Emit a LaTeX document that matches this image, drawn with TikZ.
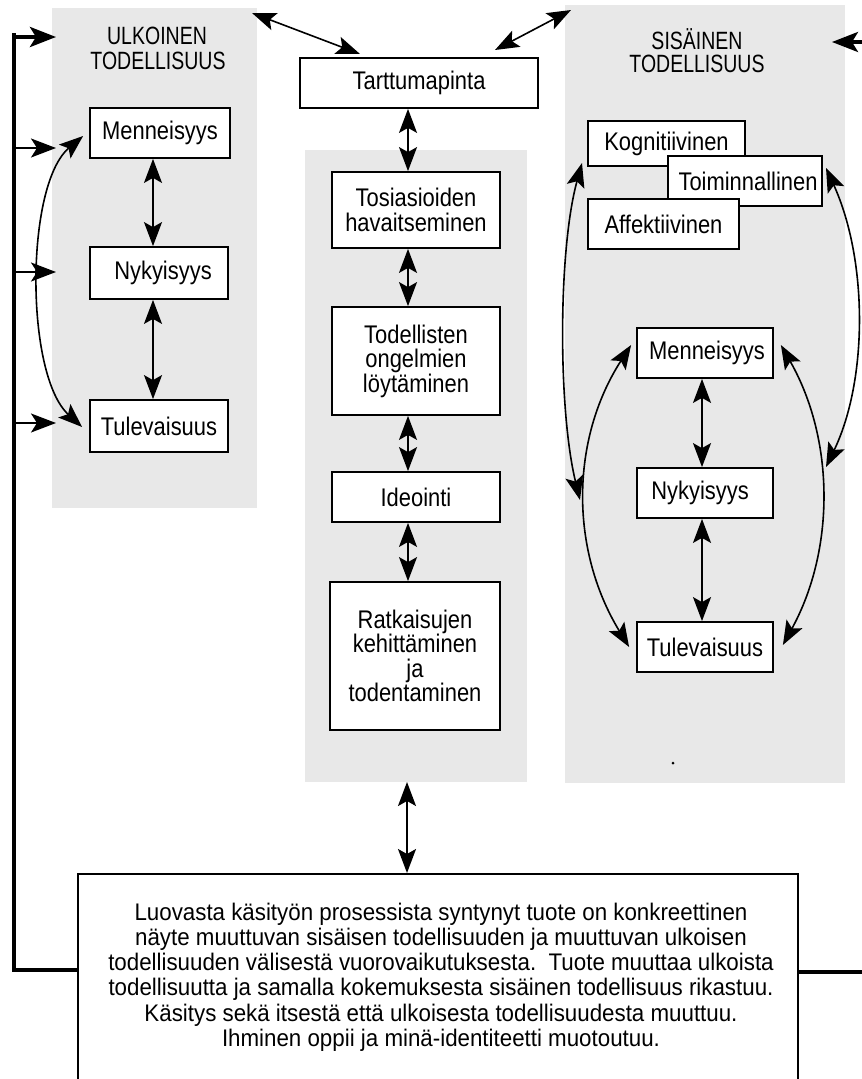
\documentclass[tikz,border=0pt]{standalone}
\usepackage{fontspec}
\setmainfont{Liberation Sans}[FakeStretch=0.86]
\newfontfamily\hfont{Liberation Sans}[FakeStretch=0.78]
\newfontfamily\pfont{Liberation Sans}[FakeStretch=0.93]
\usetikzlibrary{arrows.meta}
\tikzset{
  shadebg/.style={fill=black!9, draw=none},
  box/.style={draw, line width=1.8pt, fill=white, inner sep=0pt, align=center,
    font=\fontsize{25.5}{24.5}\selectfont},
  dbl/.style={line width=1.6pt, {Stealth[length=24pt,width=18pt,inset=5pt]}-{Stealth[length=24pt,width=18pt,inset=5pt]}},
  sgl/.style={line width=1.8pt, -{Stealth[length=25pt,width=19pt,inset=6pt]}},
  bigarr/.style={-{Stealth[length=26pt,width=20pt,inset=6pt]}},
  frameline/.style={line width=4.5pt},
  head/.style={font=\hfont\fontsize{25}{25}\selectfont, inner sep=0pt},
  prodtxt/.style={font=\pfont\fontsize{24}{25.2}\selectfont, align=center, inner sep=0pt}
}
\begin{document}
\begin{tikzpicture}[x=1pt,y=-1pt]
\path[use as bounding box] (0,0) rectangle (862,1079);
% shaded regions
\fill[shadebg] (52,8) rectangle (257,508);
\fill[shadebg] (305,150) rectangle (527,782);
\fill[shadebg] (565,5) rectangle (845,783);
\fill (673,763) circle (1.5);

% headings
\node[head] (hulk1) at (157,36) {ULKOINEN};
\node[head] (hulk2) at (158,61) {TODELLISUUS};
\node[head] (hsis1) at (697,39) {SISÄINEN};
\node[head] (hsis2) at (697,64) {TODELLISUUS};

% centre column
\node[box, minimum width=238pt, minimum height=50pt] (tart) at (419,83) {Tarttumapinta};
\node[box, minimum width=168pt, minimum height=76pt] (tos) at (416,210) {Tosiasioiden\\havaitseminen};
\node[box, minimum width=168pt, minimum height=108pt] (tod) at (416,361) {Todellisten\\ongelmien\\löytäminen};
\node[box, minimum width=168pt, minimum height=50pt] (ide) at (416,497) {Ideointi};
\node[box, minimum width=170pt, minimum height=148pt] (rat) at (415,656) {Ratkaisujen\\kehittäminen\\ja\\todentaminen};

% left column
\node[box, minimum width=140pt, minimum height=50pt] (lmen) at (160,133) {Menneisyys};
\node[box, minimum width=138pt, minimum height=52pt] (lnyk) at (159,273) {\hspace*{8pt}Nykyisyys};
\node[box, minimum width=138pt, minimum height=52pt] (ltul) at (159,426) {Tulevaisuus};

% right column
\node[box, minimum width=157pt, minimum height=45pt] (kog) at (666.5,143.5) {Kognitiivinen};
\node[box, minimum width=154pt, minimum height=50pt] (toi) at (745,181) {\hspace*{6pt}Toiminnallinen};
\node[box, minimum width=151pt, minimum height=50pt] (aff) at (663.5,224) {Affektiivinen};
\node[box, minimum width=136pt, minimum height=50pt] (rmen) at (705,353) {\hspace*{4pt}Menneisyys};
\node[box, minimum width=136pt, minimum height=50pt] (rnyk) at (705,493) {Nykyisyys\hspace*{10pt}};
\node[box, minimum width=136pt, minimum height=50pt] (rtul) at (705,647) {Tulevaisuus};

% bottom box
\node[draw, line width=1.8pt, fill=white, minimum width=720pt, minimum height=220pt,
  anchor=north west, inner sep=0pt] (prod) at (77,873) {};
\node[prodtxt] (prodtext) at (441,977) {Luovasta käsityön prosessista syntynyt tuote on konkreettinen\\
näyte muuttuvan sisäisen todellisuuden ja muuttuvan ulkoisen\\
todellisuuden välisestä vuorovaikutuksesta.\ \ Tuote muuttaa ulkoista\\
todellisuutta ja samalla kokemuksesta sisäinen todellisuus rikastuu.\\
Käsitys sekä itsestä että ulkoisesta todellisuudesta muuttuu.\\
Ihminen oppii ja minä-identiteetti muotoutuu.};

% frame lines
\coordinate (fTop) at (14,33);
\coordinate (fBot) at (14,970);
\coordinate (fRight) at (862,972);
\draw[frameline] (fTop) -- (fBot) -- (fBot -| prod.west);
\draw[frameline] (prod.east |- fRight) -- (fRight);
\coordinate (ta0) at (14,37);  \coordinate (ta1) at (56,37);
\coordinate (la0) at (14,148); \coordinate (la1) at (56,148);
\coordinate (lb0) at (14,272); \coordinate (lb1) at (56,272);
\coordinate (lc0) at (14,423); \coordinate (lc1) at (56,423);
\draw[line width=4pt, bigarr] (ta0) -- (ta1);
\draw[sgl] (la0) -- (la1);
\draw[sgl] (lb0) -- (lb1);
\draw[sgl] (lc0) -- (lc1);
\coordinate (ra0) at (862,42); \coordinate (ra1) at (832,42);
\draw[line width=3.5pt, bigarr] (ra0) -- (ra1);

% top diagonal arrows
\coordinate (d1a) at (252,13); \coordinate (d1b) at (360,54);
\coordinate (d2a) at (495,50); \coordinate (d2b) at (571,10);
\draw[dbl] (d1a) -- (d1b);
\draw[dbl] (d2a) -- (d2b);

% centre vertical arrows
\draw[dbl] ([xshift=-11pt]tart.south) -- ([xshift=-8pt]tos.north);
\draw[dbl] ([xshift=-8pt]tos.south) -- ([xshift=-8pt]tod.north);
\draw[dbl] ([xshift=-8pt]tod.south) -- ([xshift=-8pt]ide.north);
\draw[dbl] ([xshift=-8pt]ide.south) -- ([xshift=-7pt]rat.north);
\coordinate (cb) at (407,782);
\draw[dbl] (cb) -- (cb |- prod.north);

% left column arrows
\draw[dbl] ([xshift=-7pt]lmen.south) -- ([xshift=-6pt]lnyk.north);
\draw[dbl] ([xshift=-6pt]lnyk.south) -- ([xshift=-6pt]ltul.north);
\draw[dbl] ([shift={(-6,3)}]lmen.west) .. controls (25,185) and (25,375) .. ([shift={(-7,1)}]ltul.west);

% right column arrows
\draw[dbl] ([xshift=-3pt]rmen.south) -- ([xshift=-3pt]rnyk.north);
\draw[dbl] ([xshift=-3pt]rnyk.south) -- ([xshift=-3pt]rtul.north);
\coordinate (k1) at (582,163); \coordinate (k2) at (580,500);
\draw[dbl] (k1) .. controls (558,250) and (558,410) .. (k2);
\coordinate (t1) at (826,168); \coordinate (t2) at (826,467);
\draw[dbl] (t1) .. controls (868,260) and (868,380) .. (t2);
\draw[dbl] ([shift={(-5,-8)}]rmen.west) .. controls (570,440) and (570,550) .. ([xshift=-7pt]rtul.west);
\draw[dbl] ([shift={(7,-8)}]rmen.east) .. controls (835,440) and (835,550) .. ([shift={(9,-2)}]rtul.east);
\end{tikzpicture}
\end{document}
